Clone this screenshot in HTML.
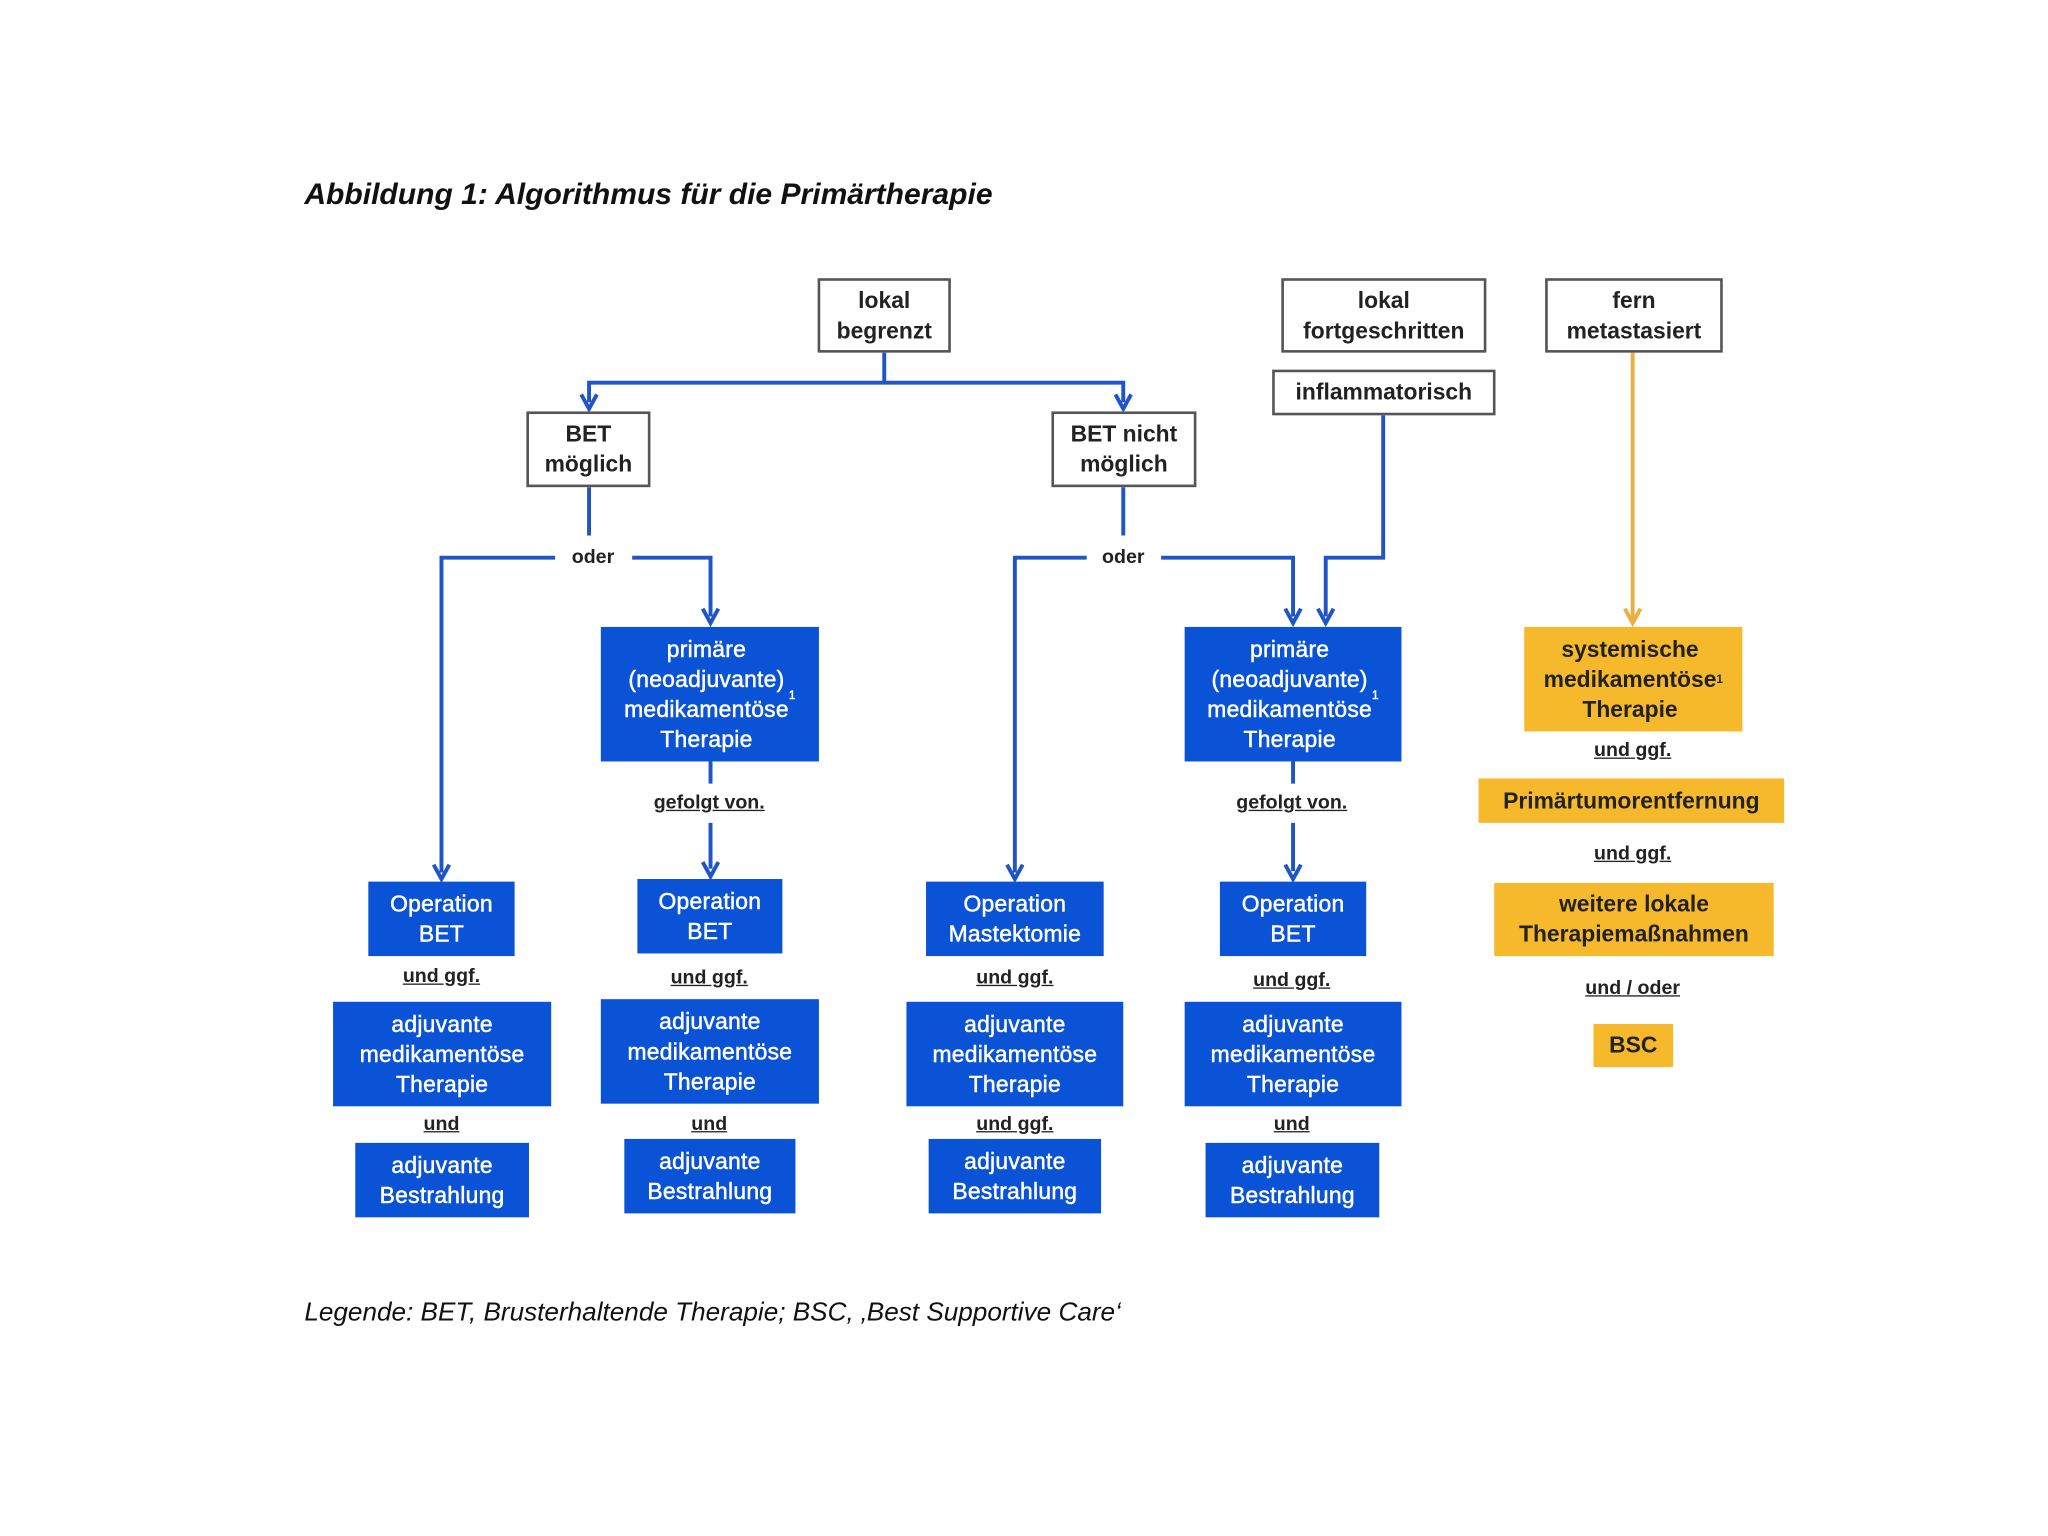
<!DOCTYPE html>
<html><head><meta charset="utf-8"><style>
html,body{margin:0;padding:0;background:#fff;}
#w{position:absolute;left:0;top:0;width:1568px;height:1176px;transform:scale(1.306122);transform-origin:0 0;font-family:"Liberation Sans",Arial,sans-serif;}
.b{position:absolute;display:flex;align-items:center;justify-content:center;text-align:center;box-sizing:border-box;font-size:17.5px;line-height:23px;font-weight:bold;}
.wb{background:#fff;border:2px solid #555;color:#222;}
.bl{background:#0a52d6;color:#fff;font-weight:normal;letter-spacing:0.2px;-webkit-text-stroke:0.4px #fff;}
.or{background:#f6b92b;color:#222;}
.l{position:absolute;font-size:15px;font-weight:bold;text-decoration:underline;color:#222;transform:translateX(-50%);white-space:nowrap;}
.o{position:absolute;font-size:15px;font-weight:bold;color:#222;transform:translateX(-50%);}
sup{font-size:9px;line-height:0;}
</style></head><body><div id="w">
<div style="position:absolute;left:233px;top:135px;font-size:23px;font-weight:bold;font-style:italic;color:#111;">Abbildung 1: Algorithmus für die Primärtherapie</div>
<svg width="1568" height="1176" style="position:absolute;left:0;top:0" fill="none">
<g stroke="#1f55c8" stroke-width="3">
<path d="M677 270V293M451 308V293H860V308"/>
<path d="M451 373V410M425 427H338V668M484 427H544V472"/>
<path d="M860 373V410M832 427H777V668M889 427H990V472"/>
<path d="M1059 318V427H1015V472"/>
<path d="M544 583V600M544 630V665M990 583V600M990 630V667"/>
</g>
<g stroke="#1f55c8" stroke-width="3" fill="none">
<path d="M445 302L451 313L457 302M854 302L860 313L866 302M332 662L338 673L344 662M538 466L544 477L550 466M771 662L777 673L783 662M984 466L990 477L996 466M1009 466L1015 477L1021 466M538 660L544 671L550 660M984 662L990 673L996 662"/>
</g>
<path d="M1250 270V475M1244 466L1250 477L1256 466" stroke="#eab040" stroke-width="3"/>
</svg>
<div class="b wb" style="left:626px;top:213px;width:102px;height:57px;">lokal<br>begrenzt</div>
<div class="b wb" style="left:981px;top:213px;width:157px;height:57px;">lokal<br>fortgeschritten</div>
<div class="b wb" style="left:1183px;top:213px;width:136px;height:57px;">fern<br>metastasiert</div>
<div class="b wb" style="left:974px;top:283px;width:171px;height:35px;">inflammatorisch</div>
<div class="b wb" style="left:403px;top:315px;width:95px;height:58px;">BET<br>möglich</div>
<div class="b wb" style="left:805px;top:315px;width:111px;height:58px;">BET nicht<br>möglich</div>
<div class="o" style="left:454px;top:418px;">oder</div>
<div class="o" style="left:860px;top:418px;">oder</div>
<div class="b bl" style="left:460px;top:480px;width:167px;height:103px;">primäre<br>(neoadjuvante)<br>medikamentöse<br>Therapie<sup>1</sup></div>
<div class="b bl" style="left:907px;top:480px;width:166px;height:103px;">primäre<br>(neoadjuvante)<br>medikamentöse<br>Therapie<sup>1</sup></div>
<div class="l" style="left:543px;top:606px;">gefolgt von.</div>
<div class="l" style="left:989px;top:606px;">gefolgt von.</div>
<div class="b bl" style="left:282px;top:675px;width:112px;height:57px;">Operation<br>BET</div>
<div class="b bl" style="left:488px;top:673px;width:111px;height:57px;">Operation<br>BET</div>
<div class="b bl" style="left:709px;top:675px;width:136px;height:57px;">Operation<br>Mastektomie</div>
<div class="b bl" style="left:934px;top:675px;width:112px;height:57px;">Operation<br>BET</div>
<div class="l" style="left:338px;top:739px;">und ggf.</div>
<div class="l" style="left:543px;top:740px;">und ggf.</div>
<div class="l" style="left:777px;top:740px;">und ggf.</div>
<div class="l" style="left:989px;top:742px;">und ggf.</div>
<div class="b bl" style="left:255px;top:767px;width:167px;height:80px;">adjuvante<br>medikamentöse<br>Therapie</div>
<div class="b bl" style="left:460px;top:765px;width:167px;height:80px;">adjuvante<br>medikamentöse<br>Therapie</div>
<div class="b bl" style="left:694px;top:767px;width:166px;height:80px;">adjuvante<br>medikamentöse<br>Therapie</div>
<div class="b bl" style="left:907px;top:767px;width:166px;height:80px;">adjuvante<br>medikamentöse<br>Therapie</div>
<div class="l" style="left:338px;top:852px;">und</div>
<div class="l" style="left:543px;top:852px;">und</div>
<div class="l" style="left:777px;top:852px;">und ggf.</div>
<div class="l" style="left:989px;top:852px;">und</div>
<div class="b bl" style="left:272px;top:875px;width:133px;height:57px;">adjuvante<br>Bestrahlung</div>
<div class="b bl" style="left:478px;top:872px;width:131px;height:57px;">adjuvante<br>Bestrahlung</div>
<div class="b bl" style="left:711px;top:872px;width:132px;height:57px;">adjuvante<br>Bestrahlung</div>
<div class="b bl" style="left:923px;top:875px;width:133px;height:57px;">adjuvante<br>Bestrahlung</div>
<div class="b or" style="left:1167px;top:480px;width:167px;height:80px;">systemische<br>medikamentöse<br>Therapie<sup>1</sup></div>
<div class="l" style="left:1250px;top:566px;">und ggf.</div>
<div class="b or" style="left:1132px;top:596px;width:234px;height:34px;">Primärtumorentfernung</div>
<div class="l" style="left:1250px;top:645px;">und ggf.</div>
<div class="b or" style="left:1144px;top:676px;width:214px;height:56px;">weitere lokale<br>Therapiemaßnahmen</div>
<div class="l" style="left:1250px;top:748px;">und / oder</div>
<div class="b or" style="left:1220px;top:784px;width:61px;height:33px;">BSC</div>
<div style="position:absolute;left:233px;top:994px;font-size:20px;font-style:italic;color:#111;">Legende: BET, Brusterhaltende Therapie; BSC, ‚Best Supportive Care‘</div>
</div></body></html>
